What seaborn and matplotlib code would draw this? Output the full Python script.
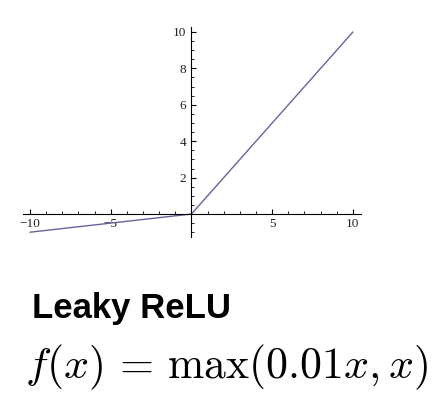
import numpy as np
import pandas as pd
import matplotlib.pyplot as plt
import seaborn as sns
from matplotlib.ticker import MultipleLocator, FixedLocator

sns.set_style("white")
plt.rcParams['font.family'] = ['Liberation Serif', 'DejaVu Serif']
plt.rcParams['mathtext.fontset'] = 'cm'
plt.rcParams['text.color'] = 'black'
plt.rcParams['xtick.color'] = 'black'
plt.rcParams['ytick.color'] = 'black'

# Leaky ReLU as drawn (piecewise linear through these points)
x_vals = [-10, 0, 10]
y_vals = [-1, 0, 10]
x_major = [-10, -5, 5, 10]
y_major = [2, 4, 6, 8, 10]

df = pd.DataFrame({"x": x_vals, "y": y_vals})

fig = plt.figure(figsize=(4.39, 4.03), dpi=100)
ax = fig.add_axes([0.0517, 0.4125, 0.7706, 0.5217])

sns.lineplot(data=df, x="x", y="y", ax=ax, color="#64649c", linewidth=1.0)

ax.set_xlim(-10.45, 10.5)
ax.set_ylim(-1.25, 10.3)

# axes crossing at the origin
ax.spines['left'].set_position(('data', 0))
ax.spines['bottom'].set_position(('data', 0))
ax.spines['top'].set_visible(False)
ax.spines['right'].set_visible(False)
for s in ['left', 'bottom']:
    ax.spines[s].set_linewidth(0.8)
    ax.spines[s].set_color('black')

ax.xaxis.set_major_locator(FixedLocator(x_major))
ax.xaxis.set_minor_locator(MultipleLocator(1))
ax.yaxis.set_major_locator(FixedLocator(y_major))
ax.yaxis.set_minor_locator(MultipleLocator(0.5))

ax.tick_params(axis='both', which='major', direction='in', length=3.5, width=0.8,
               labelsize=9.5, color='black', labelcolor='#222222', bottom=True, left=True)
ax.tick_params(axis='both', which='minor', direction='in', length=2, width=0.6,
               color='black', bottom=True, left=True)
ax.tick_params(axis='x', pad=3)
ax.tick_params(axis='y', pad=4)

ax.set_xlabel("")
ax.set_ylabel("")
ax.grid(False)

fig.text(0.072, 0.21, "Leaky ReLU", fontsize=25, fontweight='bold', color='black',
         family=['Liberation Sans', 'DejaVu Sans'], ha='left', va='baseline')
fig.text(0.058, 0.062, r"$f(x)\,=\,\max(0.01x, x)$", fontsize=31.5, color='black',
         ha='left', va='baseline')

fig.savefig("out.png", dpi=100, facecolor='white')
